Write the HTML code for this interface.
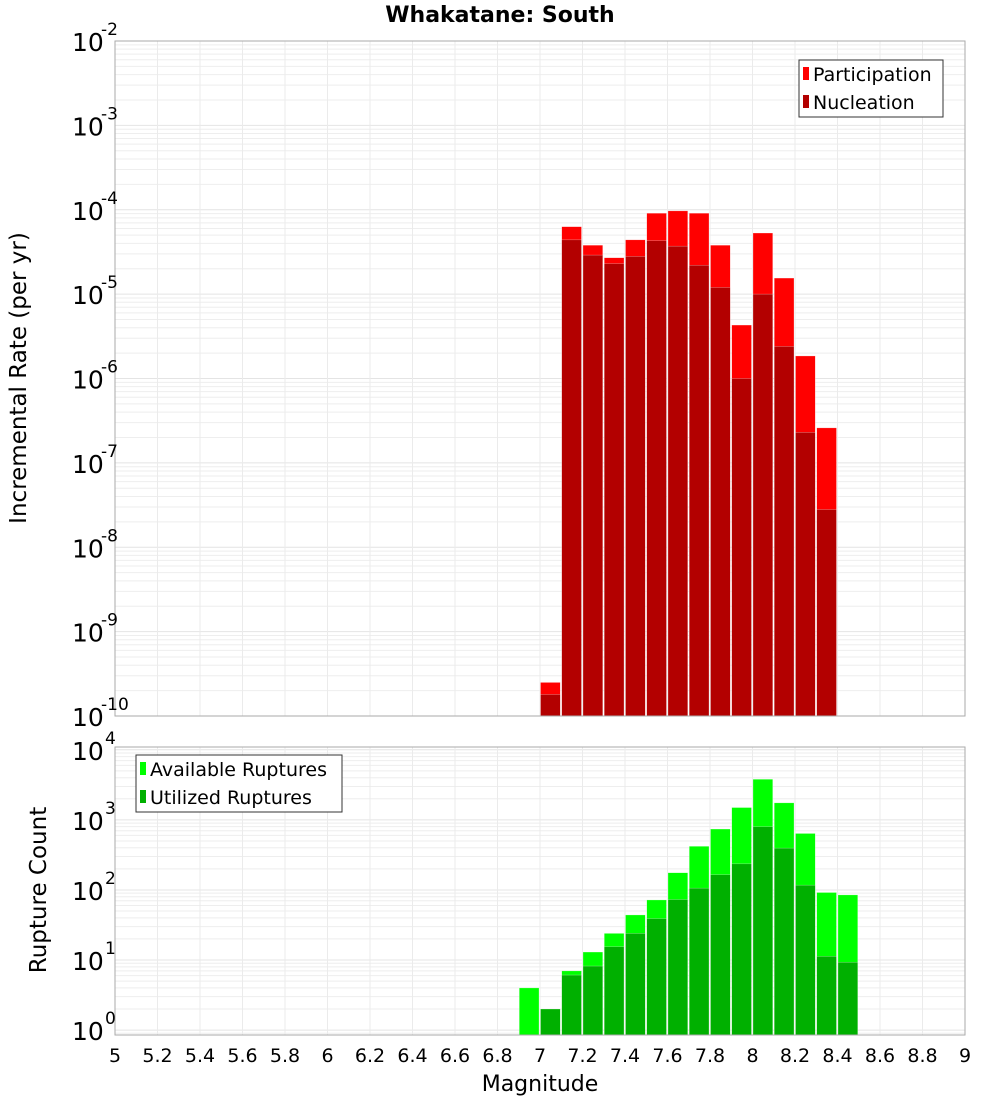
<!DOCTYPE html>
<html><head><meta charset="utf-8"><style>
body{margin:0;background:#fff;}
svg{display:block;font-family:"DejaVu Sans","Liberation Sans",sans-serif;}
</style></head><body>
<svg id="chart" width="1000" height="1100">
<text x="500" y="22" text-anchor="middle" font-size="22" font-weight="bold">Whakatane: South</text>
<g id="top"></g><g id="bot"></g>
<text x="540" y="1091" text-anchor="middle" font-size="22">Magnitude</text>
<text transform="translate(26,378) rotate(-90)" text-anchor="middle" font-size="23">Incremental Rate (per yr)</text>
<text transform="translate(46,890) rotate(-90)" text-anchor="middle" font-size="23">Rupture Count</text>
</svg>
<script>
const mags = [6.95,7.05,7.15,7.25,7.35,7.45,7.55,7.65,7.75,7.85,7.95,8.05,8.15,8.25,8.35,8.45];
const participation = [null,2.5e-10,6.3e-5,3.8e-5,2.7e-5,4.4e-5,9.1e-5,9.7e-5,9.1e-5,3.8e-5,4.3e-6,5.3e-5,1.55e-5,1.85e-6,2.6e-7,null];
const nucleation = [null,1.8e-10,4.4e-5,2.9e-5,2.3e-5,2.8e-5,4.3e-5,3.7e-5,2.2e-5,1.2e-5,1.0e-6,1.0e-5,2.4e-6,2.3e-7,2.8e-8,null];
const available = [4.0,2.0,7.0,13,24,44,72,176,420,740,1500,3800,1750,640,92,85];
const utilized = [null,2.0,6.1,8.2,15.5,24,39,73,106,165,236,800,395,117,11.3,9.3];
const xTicks = [5,5.2,5.4,5.6,5.8,6,6.2,6.4,6.6,6.8,7,7.2,7.4,7.6,7.8,8,8.2,8.4,8.6,8.8,9];
const topExps = [-2,-3,-4,-5,-6,-7,-8,-9,-10];
const botExps = [0,1,2,3,4];

const NS="http://www.w3.org/2000/svg";
const X0=115,X1=965;
const xs=m=>X0+(m-5)/4*(X1-X0);
function mk(p,tag,a){const e=document.createElementNS(NS,tag);for(const k in a)e.setAttribute(k,a[k]);p.appendChild(e);return e;}
function panel(g,top,bot,lmin,lmax){
  const ys=v=>bot-(Math.log10(v)-lmin)/(lmax-lmin)*(bot-top);
  const bg=mk(g,'rect',{x:X0,y:top,width:X1-X0,height:bot-top,fill:'#fff'});
  
  
  for(let d=Math.floor(lmin);d<=Math.ceil(lmax);d++){
    for(let k=1;k<10;k++){const l=d+Math.log10(k);if(l<lmin||l>lmax)continue;const y=ys(Math.pow(10,l));
      mk(g,'line',{x1:X0,x2:X1,y1:y,y2:y,stroke:k==1?'#e4e4e4':'#eeeeee','stroke-width':1});}
  }
  xTicks.forEach(t=>{const x=xs(t);mk(g,'line',{x1:x,x2:x,y1:top,y2:bot,stroke:'#ebebeb'});});
  return ys;
}
function bars(g,vals,ys,bot,color,name){
  vals.forEach((v,i)=>{if(v==null)return;const x=xs(mags[i]-0.05);const y=ys(v);
    const r=mk(g,'rect',{x:x+0.5,y:y,width:(xs(0.1+5)-X0)-1.5,height:bot-y,fill:color,stroke:'#fff','stroke-opacity':0.5,'stroke-width':0.5});
    
    
  });
}
function ylabels(g,exps,ys){
  exps.forEach(e=>{const y=ys(Math.pow(10,e));const t=mk(g,'text',{x:72,y:y+10,'font-size':25});
    t.textContent='10';
    
    
    const s=mk(g,'text',{x:e<0?101:105,y:y-6,'font-size':17});s.textContent=String(e);
    
    });
}
function legend(g,x,y,w,items){
  const b=mk(g,'rect',{x:x,y:y,width:w,height:57,fill:'#fff',stroke:'#333','stroke-width':1});
  
  
  items.forEach((it,i)=>{const yy=y+14+i*28;mk(g,'rect',{x:x+4,y:yy-7,width:6,height:13,fill:it[1]});
    const t=mk(g,'text',{x:x+14,y:yy+7,'font-size':19});t.textContent=it[0];
    
    });
}
const tg=document.getElementById('top');
const ysT=panel(tg,41,716,-10,-2);
bars(tg,participation,ysT,716,'#ff0000','participation');
bars(tg,nucleation,ysT,716,'#b30000','nucleation');
mk(tg,'rect',{x:X0,y:41,width:X1-X0,height:675,fill:'none',stroke:'#aaa'});
ylabels(tg,topExps,ysT);
legend(tg,799,60,144,[['Participation','#ff0000'],['Nucleation','#b30000']]);

const bg=document.getElementById('bot');
const ysB=panel(bg,747,1035,-0.07,4.04);
bars(bg,available,ysB,1035,'#00ff00','available');
bars(bg,utilized,ysB,1035,'#00b000','utilized');
mk(bg,'rect',{x:X0,y:747,width:X1-X0,height:288,fill:'none',stroke:'#aaa'});
ylabels(bg,botExps,ysB);
legend(bg,136,755,206,[['Available Ruptures','#00ff00'],['Utilized Ruptures','#00b000']]);
xTicks.forEach(t=>{const tx=mk(bg,'text',{x:xs(t),y:1062,'text-anchor':'middle','font-size':19});
  tx.textContent=String(t);
  
  });
</script>
</body></html>
